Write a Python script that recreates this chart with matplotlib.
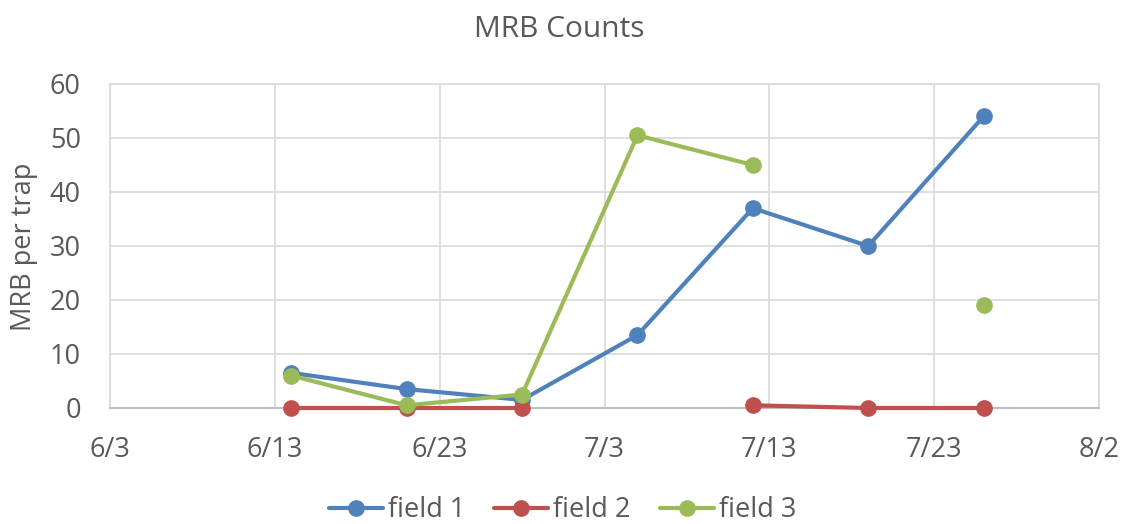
import matplotlib
matplotlib.use("Agg")
import matplotlib.pyplot as plt
import matplotlib.dates as mdates
import numpy as np
from datetime import datetime, timedelta

# ---- data ----
dates = ["2015-06-14", "2015-06-21", "2015-06-28", "2015-07-05",
         "2015-07-12", "2015-07-19", "2015-07-26"]
field1 = [6.5, 3.5, 1.5, 13.5, 37, 30, 54]
field2 = [0, 0, 0, np.nan, 0.5, 0, 0]
field3 = [6, 0.5, 2.5, 50.5, 45, np.nan, 19]
series_names = ["field 1", "field 2", "field 3"]
colors = ["#4F81BD", "#C0504D", "#9BBB59"]
x_start = "2015-06-03"
x_end = "2015-08-02"
tick_step_days = 10
y_ticks = [0, 10, 20, 30, 40, 50, 60]

plt.rcParams['font.family'] = ['Open Sans', 'DejaVu Sans']
txt_color = "#595959"

W, H = 1126, 524
fig = plt.figure(figsize=(W / 100, H / 100), dpi=100)
ax = fig.add_axes([110 / W, 1 - 408 / H, (1099 - 110) / W, (408 - 84) / H])

xd = [datetime.strptime(d, "%Y-%m-%d") for d in dates]
for vals, name, c in zip([field1, field2, field3], series_names, colors):
    ax.plot(xd, vals, color=c, lw=3.0, marker='o', markersize=11,
            label=name, solid_capstyle='round', zorder=3, clip_on=False)

x0 = datetime.strptime(x_start, "%Y-%m-%d")
x1 = datetime.strptime(x_end, "%Y-%m-%d")
ax.set_xlim(x0, x1)
ticks = []
t = x0
while t <= x1:
    ticks.append(t)
    t += timedelta(days=tick_step_days)
ax.set_xticks(ticks)
ax.set_xticklabels([f"{d.month}/{d.day}" for d in ticks])
ax.set_ylim(y_ticks[0], y_ticks[-1])
ax.set_yticks(y_ticks)

ax.grid(True, color="#D9D9D9", lw=1.2, zorder=0)
ax.set_axisbelow(True)
for s in ["left", "right", "top"]:
    ax.spines[s].set_color("#D9D9D9")
    ax.spines[s].set_linewidth(1.2)
ax.spines["bottom"].set_color("#BFBFBF")
ax.spines["bottom"].set_linewidth(1.5)

ax.tick_params(axis='x', length=0, pad=20, labelsize=19.5, labelcolor=txt_color)
ax.tick_params(axis='y', length=0, pad=21, labelsize=19.5, labelcolor=txt_color)

fig.text(559.5 / W, 1 - 36.7 / H, "MRB Counts", ha='center', va='baseline',
         fontsize=21.5, color=txt_color)
fig.text(24.5 / W, 1 - 247 / H, "MRB per trap", rotation=90, ha='center',
         va='center', fontsize=19.5, color=txt_color)

fig.legend(loc='center', bbox_to_anchor=(562.5 / W, 1 - 510 / H), ncol=3,
           frameon=False, fontsize=19.5, labelcolor=txt_color,
           handlelength=2.0, handletextpad=0.18, columnspacing=1.07,
           borderpad=0, borderaxespad=0)

fig.savefig("out.png", dpi=100)
